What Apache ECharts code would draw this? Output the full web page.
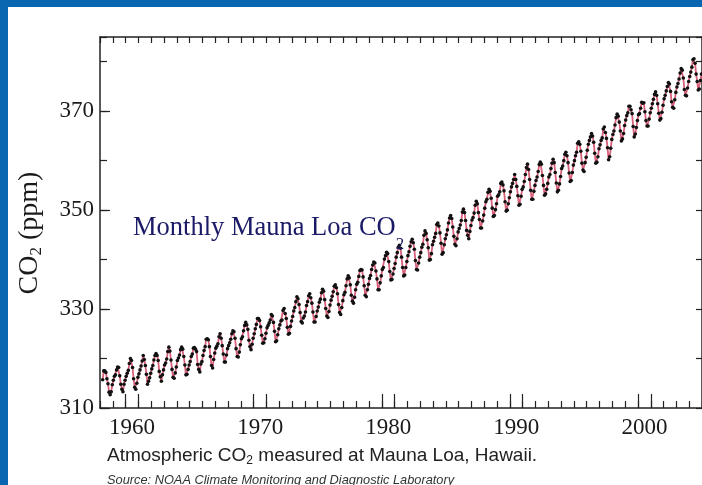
<!DOCTYPE html>
<html>
<head>
<meta charset="utf-8">
<script src="https://cdn.jsdelivr.net/npm/echarts@6/dist/echarts.min.js"></script>
<style>
  html, body { margin: 0; padding: 0; background: #ffffff; }
  #chart { width: 702px; height: 485px; }
</style>
</head>
<body>
<div id="chart"></div>
<script>
// Monthly mean CO2 at Mauna Loa (ppm), starting March 1958
const startYear = 1958;
const startMonth = 2; // March (0-based)

const co2_1958_59 = [
  315.7, 317.5, 317.5, 317.2, 315.9, 314.9, 313.2, 312.7, 313.3, 314.7,
  315.6, 316.4, 316.7, 317.7, 318.3, 318.2, 316.5, 314.8, 313.8, 313.3, 314.8, 315.6
];
const co2_1960s = [
  316.4, 317.0, 317.6, 319.0, 320.0, 319.6, 318.2, 315.9, 314.2, 313.8, 315.0, 316.2,
  316.9, 317.7, 318.5, 319.5, 320.6, 319.8, 318.6, 316.8, 314.8, 315.4, 316.1, 317.0,
  317.9, 318.6, 319.7, 320.6, 321.0, 320.6, 319.6, 317.4, 316.3, 315.4, 316.7, 317.7,
  318.7, 319.1, 319.9, 321.4, 322.3, 321.5, 319.7, 317.8, 316.2, 316.0, 317.1, 318.3,
  319.6, 320.1, 320.7, 321.8, 322.3, 321.9, 320.4, 318.7, 316.7, 316.8, 317.8, 318.7,
  319.4, 320.4, 320.9, 322.1, 322.2, 321.9, 321.4, 318.8, 317.8, 317.3, 318.9, 319.4,
  320.6, 321.6, 322.4, 323.9, 324.0, 323.8, 322.4, 320.4, 318.6, 318.1, 319.8, 321.1,
  322.1, 322.5, 323.0, 324.4, 325.0, 324.1, 322.6, 320.9, 319.3, 319.3, 320.7, 322.0,
  322.6, 323.2, 323.9, 325.0, 325.6, 325.4, 324.1, 322.0, 320.4, 320.3, 321.3, 322.8,
  324.0, 324.4, 325.6, 326.7, 327.3, 326.8, 325.9, 323.7, 322.4, 321.8, 322.9, 324.1
];
const co2_1970s = [
  325.0, 326.0, 326.9, 328.1, 328.1, 327.7, 326.4, 324.7, 323.1, 323.2, 324.0, 325.1,
  326.2, 326.7, 327.2, 327.8, 328.9, 328.6, 327.3, 325.5, 323.4, 323.6, 324.8, 326.0,
  326.8, 327.6, 327.8, 329.7, 330.1, 329.1, 328.1, 326.3, 324.9, 325.1, 326.5, 327.6,
  328.5, 329.6, 330.3, 331.5, 332.5, 332.1, 330.9, 329.3, 327.5, 327.2, 328.2, 328.6,
  329.4, 330.7, 331.5, 332.7, 333.1, 332.3, 331.2, 329.4, 327.4, 327.4, 328.5, 329.6,
  330.4, 331.4, 332.0, 333.3, 334.0, 333.6, 331.9, 330.1, 328.6, 328.3, 329.5, 330.8,
  331.8, 332.6, 333.5, 334.6, 334.9, 334.3, 333.1, 330.9, 329.3, 328.9, 330.3, 331.7,
  332.9, 333.4, 334.7, 336.1, 336.7, 336.3, 334.9, 332.8, 331.6, 331.2, 332.4, 333.9,
  335.0, 335.4, 336.6, 337.8, 338.0, 337.9, 336.5, 334.7, 332.8, 332.5, 333.9, 335.0,
  336.2, 336.8, 338.0, 338.9, 339.5, 339.3, 337.7, 336.1, 333.9, 333.9, 335.3, 336.7
];
const co2_1980s = [
  338.0, 338.4, 340.1, 340.8, 341.5, 341.2, 339.6, 337.6, 335.9, 336.0, 337.1, 338.2,
  339.2, 340.5, 341.4, 342.5, 342.9, 342.3, 340.5, 338.4, 336.7, 336.9, 338.4, 339.6,
  340.8, 341.6, 342.7, 343.6, 344.1, 343.4, 342.1, 339.8, 338.0, 337.9, 339.3, 340.5,
  341.4, 342.5, 343.1, 344.9, 345.8, 345.3, 344.0, 342.4, 339.9, 340.0, 341.2, 343.0,
  343.7, 344.5, 345.3, 347.1, 347.4, 346.8, 345.4, 343.3, 341.1, 341.4, 343.0, 344.2,
  345.0, 346.0, 347.4, 348.4, 348.9, 348.3, 346.6, 344.7, 343.1, 342.8, 344.2, 345.6,
  346.3, 347.0, 347.9, 349.6, 350.2, 349.5, 347.9, 345.9, 344.9, 344.2, 345.7, 346.9,
  348.0, 348.5, 349.4, 351.0, 351.8, 351.3, 349.5, 348.1, 346.4, 346.4, 347.8, 349.0,
  350.4, 351.7, 352.2, 353.6, 354.2, 353.8, 352.4, 350.4, 348.7, 348.9, 350.1, 351.3,
  352.8, 353.1, 353.7, 355.4, 355.7, 355.1, 353.9, 351.7, 349.8, 350.0, 351.3, 352.5
];
const co2_1990s = [
  353.7, 354.7, 355.4, 356.2, 357.2, 356.2, 354.8, 352.9, 351.0, 351.2, 352.8, 354.2,
  354.7, 355.8, 357.2, 358.6, 359.3, 358.2, 356.2, 354.0, 352.2, 352.2, 353.8, 355.0,
  356.0, 356.7, 357.8, 359.2, 359.7, 359.3, 357.0, 355.0, 353.0, 353.3, 354.2, 355.4,
  356.7, 357.2, 358.4, 359.5, 360.3, 359.6, 357.6, 355.5, 353.7, 354.0, 355.3, 356.8,
  358.4, 358.9, 360.0, 361.3, 361.7, 361.0, 359.6, 357.5, 355.8, 356.0, 357.6, 359.1,
  360.0, 361.0, 361.7, 363.5, 363.8, 363.3, 361.9, 359.5, 358.1, 357.8, 359.6, 360.7,
  362.1, 363.3, 364.1, 364.8, 365.5, 365.0, 363.7, 361.5, 359.5, 359.7, 360.8, 362.4,
  363.2, 364.1, 364.6, 366.4, 366.8, 365.7, 364.5, 362.6, 360.2, 360.8, 362.5, 364.3,
  365.3, 366.0, 367.2, 368.7, 369.4, 369.0, 367.8, 366.0, 364.0, 364.4, 365.5, 367.1,
  368.2, 369.1, 369.7, 371.0, 371.0, 370.3, 369.5, 366.9, 364.8, 365.4, 366.7, 368.1
];
const co2_2000s = [
  369.3, 369.5, 370.6, 371.8, 371.6, 371.7, 369.9, 368.1, 367.0, 367.0, 368.4, 369.7,
  370.6, 371.5, 372.4, 373.4, 373.9, 373.2, 371.5, 369.6, 368.2, 368.5, 369.8, 371.2,
  372.5, 373.2, 374.1, 375.0, 375.8, 375.5, 374.0, 371.9, 370.8, 370.6, 372.3, 373.8,
  374.9, 375.6, 376.5, 377.7, 378.6, 378.3, 376.7, 374.4, 373.2, 373.1, 374.7, 376.0,
  377.0, 377.9, 378.9, 380.4, 380.6, 379.7, 377.5, 376.0, 374.3, 374.5, 376.2, 377.5
];

// Axis tick labels
const xLabelYears = [1960, 1970, 1980, 1990, 2000];
const yLabelValues = [310, 330, 350, 370];
const xMin = 1958, xMax = 2005;
const yMin = 310, yMax = 385;

const monthly = [].concat(co2_1958_59, co2_1960s, co2_1970s, co2_1980s, co2_1990s, co2_2000s);
const seriesData = monthly.map((v, i) => [startYear + (startMonth + i + 0.5) / 12, v]);

// one category per year boundary, used for the year tick marks
const yearCats = [];
for (let y = xMin; y <= xMax; y++) yearCats.push(String(y));

const AXIS = '#222';
const serif = '"Liberation Serif", "DejaVu Serif", serif';
const sans = '"Liberation Sans", Arial, sans-serif';

const chart = echarts.init(document.getElementById('chart'), null, { renderer: 'canvas' });

const hiddenLabel = { show: false };
const noSplit = { show: false };

chart.setOption({
  animation: false,
  backgroundColor: '#ffffff',
  grid: { left: 100, top: 37, right: -1, bottom: 77, containLabel: false },
  xAxis: [
    {
      type: 'value', min: xMin, max: xMax, position: 'bottom',
      axisLine: { show: true, onZero: false, lineStyle: { color: AXIS, width: 1.5 } },
      axisTick: { show: false }, axisLabel: hiddenLabel, splitLine: noSplit
    },
    {
      type: 'category', data: yearCats, boundaryGap: false, position: 'bottom',
      axisLine: { show: false, onZero: false },
      axisTick: { show: true, inside: true, length: 7, interval: 0, lineStyle: { color: AXIS, width: 1.2 } },
      axisLabel: hiddenLabel, splitLine: noSplit
    },
    {
      type: 'category', data: yearCats, boundaryGap: false, position: 'bottom',
      axisLine: { show: false, onZero: false },
      axisTick: {
        show: true, inside: true, length: 14, lineStyle: { color: AXIS, width: 1.2 },
        interval: (i, v) => xLabelYears.includes(+v) || xLabelYears.includes(+v - 1)
      },
      axisLabel: {
        show: true, margin: 8, color: '#1a1a1a', fontFamily: serif, fontSize: 23,
        padding: [0, 0, 0, 13],
        interval: (i, v) => xLabelYears.includes(+v)
      },
      splitLine: noSplit
    },
    {
      type: 'category', data: yearCats, boundaryGap: false, position: 'top',
      axisLine: { show: true, onZero: false, lineStyle: { color: AXIS, width: 1.5 } },
      axisTick: { show: true, inside: true, length: 6, interval: 0, lineStyle: { color: AXIS, width: 1.2 } },
      axisLabel: hiddenLabel, splitLine: noSplit
    }
  ],
  yAxis: [
    {
      type: 'value', min: yMin, max: yMax, interval: 10, position: 'left',
      axisLine: { show: true, onZero: false, lineStyle: { color: AXIS, width: 1.5 } },
      axisTick: { show: true, inside: true, length: 7, lineStyle: { color: AXIS, width: 1.2 } },
      axisLabel: hiddenLabel, splitLine: noSplit
    },
    {
      type: 'value', min: yMin, max: yMax, interval: 20, position: 'left',
      axisLine: { show: false, onZero: false },
      axisTick: { show: true, inside: true, length: 10, lineStyle: { color: AXIS, width: 1.2 } },
      axisLabel: {
        show: true, margin: 6, color: '#1a1a1a', fontFamily: serif, fontSize: 23,
        showMaxLabel: false,
        formatter: v => (yLabelValues.includes(v) ? String(v) : '')
      },
      splitLine: noSplit
    },
    {
      type: 'value', min: yMin, max: yMax, interval: 10, position: 'right',
      axisLine: { show: true, onZero: false, lineStyle: { color: AXIS, width: 1.5 } },
      axisTick: { show: true, inside: true, length: 6, lineStyle: { color: AXIS, width: 1.2 } },
      axisLabel: hiddenLabel, splitLine: noSplit
    }
  ],
  series: [
    {
      type: 'line',
      xAxisIndex: 0, yAxisIndex: 0,
      data: seriesData,
      showSymbol: true, showAllSymbol: true,
      symbol: 'circle', symbolSize: 3.6,
      itemStyle: { color: '#111111' },
      lineStyle: { color: '#d8607a', width: 1.8 },
      emphasis: { disabled: true },
      clip: true,
      z: 3
    }
  ],
  graphic: [
    // blue frame along the top and left edges
    { type: 'rect', left: 0, top: 0, shape: { x: 0, y: 0, width: 702, height: 7 }, style: { fill: '#0867b0' }, z: 100 },
    { type: 'rect', left: 0, top: 0, shape: { x: 0, y: 0, width: 8, height: 485 }, style: { fill: '#0867b0' }, z: 100 },
    // y-axis title
    {
      type: 'text', x: 30, y: 233, rotation: Math.PI / 2, z: 50,
      style: {
        text: '{m|CO}{s|2}{m| (ppm)}',
        textAlign: 'center', textVerticalAlign: 'middle',
        rich: {
          m: { fontFamily: serif, fontSize: 28, fill: '#1a1a1a' },
          s: { fontFamily: serif, fontSize: 17, fill: '#1a1a1a', padding: [14, 0, 0, 0] }
        }
      }
    },
    // in-plot title
    {
      type: 'text', x: 133, y: 228, z: 50,
      style: {
        text: '{m|Monthly Mauna Loa CO}{s|2}',
        textAlign: 'left', textVerticalAlign: 'middle',
        rich: {
          m: { fontFamily: serif, fontSize: 26.5, fill: '#1a1a66' },
          s: { fontFamily: serif, fontSize: 17, fill: '#1a1a66', padding: [33, 0, 0, 0] }
        }
      }
    },
    // caption
    {
      type: 'text', x: 107, y: 456, z: 50,
      style: {
        text: '{m|Atmospheric CO}{s|2}{m| measured at Mauna Loa, Hawaii.}',
        textAlign: 'left', textVerticalAlign: 'middle',
        rich: {
          m: { fontFamily: sans, fontSize: 19, fill: '#222222' },
          s: { fontFamily: sans, fontSize: 12, fill: '#222222', padding: [10, 0, 0, 0] }
        }
      }
    },
    // source line
    {
      type: 'text', x: 107, y: 480, z: 50,
      style: {
        text: 'Source: NOAA Climate Monitoring and Diagnostic Laboratory',
        textAlign: 'left', textVerticalAlign: 'middle',
        fontFamily: sans, fontSize: 12.8, fontStyle: 'italic', fill: '#333333'
      }
    }
  ]
});
</script>
</body>
</html>
